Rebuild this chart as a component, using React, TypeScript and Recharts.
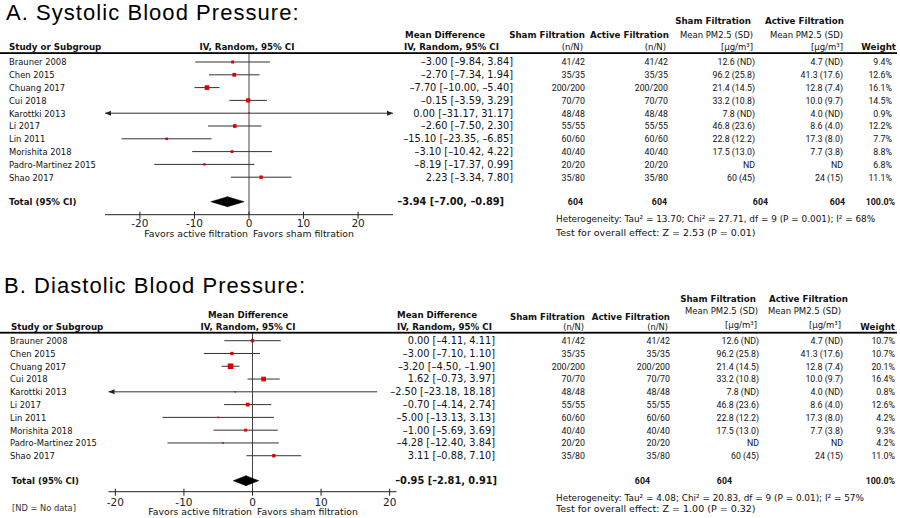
import React from "react";
import { ScatterChart, Scatter, XAxis, YAxis, ReferenceLine } from "recharts";

// ---------------- data ----------------
const studies = [
  "Brauner 2008",
  "Chen 2015",
  "Chuang 2017",
  "Cui 2018",
  "Karottki 2013",
  "Li 2017",
  "Lin 2011",
  "Morishita 2018",
  "Padro-Martinez 2015",
  "Shao 2017",
];

const sbpMD = [-3.0, -2.7, -7.7, -0.15, 0.0, -2.6, -15.1, -3.1, -8.19, 2.23];
const sbpLo = [-9.84, -7.34, -10.0, -3.59, -31.17, -7.5, -23.35, -10.42, -17.37, -3.34];
const sbpHi = [3.84, 1.94, -5.4, 3.29, 31.17, 2.3, -6.85, 4.22, 0.99, 7.8];
const sbpWeight = [9.4, 12.6, 16.1, 14.5, 0.9, 12.2, 7.7, 8.8, 6.8, 11.1];
const sbpTotal = [-3.94, -7.0, -0.89]; // md, lo, hi

const dbpMD = [0.0, -3.0, -3.2, 1.62, -2.5, -0.7, -5.0, -1.0, -4.28, 3.11];
const dbpLo = [-4.11, -7.1, -4.5, -0.73, -23.18, -4.14, -13.13, -5.69, -12.4, -0.88];
const dbpHi = [4.11, 1.1, -1.9, 3.97, 18.18, 2.74, 3.13, 3.69, 3.84, 7.1];
const dbpWeight = [10.7, 10.7, 20.1, 16.4, 0.8, 12.6, 4.2, 9.3, 4.2, 11.0];
const dbpTotal = [-0.95, -2.81, 0.91];

const nCounts = ["41/42", "35/35", "200/200", "70/70", "48/48", "55/55", "60/60", "40/40", "20/20", "35/80"];
const shamPM = ["12.6 (ND)", "96.2 (25.8)", "21.4 (14.5)", "33.2 (10.8)", "7.8 (ND)", "46.8 (23.6)", "22.8 (12.2)", "17.5 (13.0)", "ND", "60 (45)"];
const activePM = ["4.7 (ND)", "41.3 (17.6)", "12.8 (7.4)", "10.0 (9.7)", "4.0 (ND)", "8.6 (4.0)", "17.3 (8.0)", "7.7 (3.8)", "ND", "24 (15)"];

const sbpTotals = ["604", "604", "604", "604", "100.0%"];
const dbpTotals = ["604", "604", "100.0%"];

const tickValues = [-20, -10, 0, 10, 20];

const sbpHeterogeneity = "Heterogeneity: Tau\u00B2 = 13.70; Chi\u00B2 = 27.71, df = 9 (P = 0.001); I\u00B2 = 68%";
const sbpOverall = "Test for overall effect: Z = 2.53 (P = 0.01)";
const dbpHeterogeneity = "Heterogeneity: Tau\u00B2 = 4.08; Chi\u00B2 = 20.83, df = 9 (P = 0.01); I\u00B2 = 57%";
const dbpOverall = "Test for overall effect: Z = 1.00 (P = 0.32)";

// ---------------- layout ----------------
const SANS = "'DejaVu Sans', Verdana, sans-serif";
const NUM = "Roboto, 'Liberation Sans', sans-serif";
const TITLE = "'Liberation Sans', Arial, sans-serif";
const CHART_W = 420;

type Layout = {
  chartTop: number;
  chartHeight: number;
  plotTop: number;
  axisY: number;
  plotLeft: number;
  plotRight: number;
  xDomain: [number, number];
  row0: number;
  rowStep: number;
  totalY: number;
  tickDy: number;
};

const topL: Layout = {
  chartTop: 0,
  chartHeight: 250,
  plotTop: 53,
  axisY: 214.7,
  plotLeft: 105,
  plotRight: 393,
  xDomain: [-26.4, 26.4],
  row0: 62,
  rowStep: 12.8,
  totalY: 201.7,
  tickDy: 12.3,
};

const botL: Layout = {
  chartTop: 300,
  chartHeight: 218,
  plotTop: 332.7,
  axisY: 491.7,
  plotLeft: 108.5,
  plotRight: 396.5,
  xDomain: [-21, 21],
  row0: 340.7,
  rowStep: 12.78,
  totalY: 480.7,
  tickDy: 13.8,
};

const fmt = (v: number) => {
  const s = Math.abs(v).toFixed(2);
  return v < 0 ? "\u2013" + s : s;
};

function makeCI(arrowL: boolean, arrowR: boolean) {
  return (p: any) => {
    const { x1, y1, x2, y2 } = p;
    return (
      <g>
        <line x1={x1} y1={y1} x2={x2} y2={y2} stroke="#333" strokeWidth={1} />
        {arrowL && (
          <polygon points={`${x1},${y1} ${x1 + 6},${y1 - 2.5} ${x1 + 6},${y1 + 2.5}`} fill="#222" />
        )}
        {arrowR && (
          <polygon points={`${x2},${y2} ${x2 - 6},${y2 - 2.5} ${x2 - 6},${y2 + 2.5}`} fill="#222" />
        )}
      </g>
    );
  };
}

const DH = 5;
const diamondLeft = (p: any) => (
  <polygon
    points={`${p.x1},${p.y1} ${p.x2},${p.y2 - DH} ${p.x2},${p.y2 + DH}`}
    fill="#000"
    stroke="#000"
    strokeWidth={0.5}
  />
);
const diamondRight = (p: any) => (
  <polygon
    points={`${p.x1},${p.y1 - DH} ${p.x2},${p.y2} ${p.x1},${p.y1 + DH}`}
    fill="#000"
    stroke="#000"
    strokeWidth={0.5}
  />
);

const Square = (p: any) => {
  const w = p.payload?.w ?? p.w ?? 5;
  const s = Math.max(1.6, 0.6 + 0.25 * w);
  return <rect x={p.cx - s / 2} y={p.cy - s / 2} width={s} height={s} fill="#e00000" />;
};

function makeTick(dy: number) {
  return (p: any) => {
    const { x, y, payload } = p;
    const v = payload.value as number;
    return (
      <g>
        <line x1={x} x2={x} y1={y - 3} y2={y + 4} stroke="#222" strokeWidth={1} />
        <text x={x} y={y + dy} textAnchor="middle" fontFamily={SANS} fontSize={10.5} fill="#222">
          {v < 0 ? "-" + Math.abs(v) : String(v)}
        </text>
      </g>
    );
  };
}

function Forest({
  L,
  md,
  lo,
  hi,
  w,
  total,
}: {
  L: Layout;
  md: number[];
  lo: number[];
  hi: number[];
  w: number[];
  total: number[];
}) {
  const [xmin, xmax] = L.xDomain;
  const yMin = (L.plotTop - L.row0) / L.rowStep;
  const yMax = (L.axisY - L.row0) / L.rowStep;
  const tIdx = (L.totalY - L.row0) / L.rowStep;
  const pts = md.map((v, i) => ({ x: v, y: i, w: w[i] }));
  return (
    <div style={{ position: "absolute", left: 0, top: L.chartTop, width: CHART_W, height: L.chartHeight }}>
      <ScatterChart
        width={CHART_W}
        height={L.chartHeight}
        margin={{ top: L.plotTop - L.chartTop, left: L.plotLeft, right: CHART_W - L.plotRight, bottom: 0 }}
      >
        <XAxis
          type="number"
          dataKey="x"
          domain={L.xDomain}
          ticks={tickValues}
          interval={0}
          allowDataOverflow
          axisLine={{ stroke: "#222", strokeWidth: 1 }}
          tickLine={false}
          tickSize={0}
          tickMargin={0}
          height={L.chartTop + L.chartHeight - L.axisY}
          tick={makeTick(L.tickDy)}
        />
        <YAxis type="number" dataKey="y" domain={[yMin, yMax]} reversed hide width={0} allowDataOverflow />
        <ReferenceLine x={0} stroke="#444" strokeWidth={1} />
        {lo.map((l, i) => {
          const a = Math.max(l, xmin);
          const b = Math.min(hi[i], xmax);
          return (
            <ReferenceLine
              key={"ci" + i}
              segment={[
                { x: a, y: i },
                { x: b, y: i },
              ]}
              shape={makeCI(l < xmin, hi[i] > xmax)}
            />
          );
        })}
        <ReferenceLine
          segment={[
            { x: total[1], y: tIdx },
            { x: total[0], y: tIdx },
          ]}
          shape={diamondLeft}
        />
        <ReferenceLine
          segment={[
            { x: total[0], y: tIdx },
            { x: total[2], y: tIdx },
          ]}
          shape={diamondRight}
        />
        <Scatter data={pts} shape={Square} isAnimationActive={false} />
      </ScatterChart>
    </div>
  );
}

const T = ({
  x,
  y,
  children,
  anchor = "start",
  size = 9,
  bold = false,
  family = SANS,
  fill = "#111",
  spacing = 0,
}: {
  x: number;
  y: number;
  children: any;
  anchor?: "start" | "middle" | "end";
  size?: number;
  bold?: boolean;
  family?: string;
  fill?: string;
  spacing?: number;
}) => (
  <text
    x={x}
    y={y}
    textAnchor={anchor}
    fontSize={size}
    fontWeight={bold ? "bold" : "normal"}
    fontFamily={family}
    fill={fill}
    letterSpacing={spacing}
  >
    {children}
  </text>
);

const rowY = (L: Layout, i: number) => L.row0 + L.rowStep * i + 3.4;

function RowTexts({
  L,
  md,
  lo,
  hi,
  w,
  mdRight,
  cols,
  labelX,
}: {
  L: Layout;
  md: number[];
  lo: number[];
  hi: number[];
  w: number[];
  mdRight: number;
  cols: number[];
  labelX: number;
}) {
  return (
    <g>
      {studies.map((s, i) => {
        const y = rowY(L, i);
        return (
          <g key={s}>
            <T x={labelX} y={y} size={8.4}>
              {s}
            </T>
            <T x={mdRight} y={y} size={9.8} anchor="end">
              {`${fmt(md[i])} [${fmt(lo[i])}, ${fmt(hi[i])}]`}
            </T>
            <T x={cols[0]} y={y} size={8.8} anchor="end" family={NUM}>
              {nCounts[i]}
            </T>
            <T x={cols[1]} y={y} size={8.8} anchor="end" family={NUM}>
              {nCounts[i]}
            </T>
            <T x={cols[2]} y={y} size={8.8} anchor="end" family={NUM}>
              {shamPM[i]}
            </T>
            <T x={cols[3]} y={y} size={8.8} anchor="end" family={NUM}>
              {activePM[i]}
            </T>
            <T x={cols[4]} y={y} size={8.8} anchor="end" family={NUM}>
              {w[i].toFixed(1) + "%"}
            </T>
          </g>
        );
      })}
    </g>
  );
}

function Overlay() {
  const tTop = topL.totalY + 3.4;
  const tBot = botL.totalY + 3.4;
  return (
    <svg width={900} height={518} style={{ position: "absolute", left: 0, top: 0, pointerEvents: "none" }}>
      {/* ---------- Panel A ---------- */}
      <T x={6} y={19.5} size={22} family={TITLE} fill="#000" spacing={1.05}>
        A. Systolic Blood Pressure:
      </T>
      <T x={9} y={50} size={8.7} bold>
        Study or Subgroup
      </T>
      <T x={247} y={50} size={8.7} bold anchor="middle">
        IV, Random, 95% CI
      </T>
      <T x={405} y={38} size={8.7} bold>
        Mean Difference
      </T>
      <T x={404} y={50} size={8.7} bold>
        IV, Random, 95% CI
      </T>
      <T x={585} y={38} size={8.7} bold anchor="end">
        Sham Filtration
      </T>
      <T x={583} y={50} size={8.5} anchor="end">
        (n/N)
      </T>
      <T x={669} y={38} size={8.7} bold anchor="end">
        Active Filtration
      </T>
      <T x={666} y={50} size={8.5} anchor="end">
        (n/N)
      </T>
      <T x={751} y={24} size={8.7} bold anchor="end">
        Sham Filtration
      </T>
      <T x={753} y={38} size={8.5} anchor="end">
        Mean PM2.5 (SD)
      </T>
      <T x={753} y={50} size={8.5} anchor="end">
        [μg/m³]
      </T>
      <T x={844} y={24} size={8.7} bold anchor="end">
        Active Filtration
      </T>
      <T x={843} y={38} size={8.5} anchor="end">
        Mean PM2.5 (SD)
      </T>
      <T x={843} y={50} size={8.5} anchor="end">
        [μg/m³]
      </T>
      <T x={896} y={50} size={8.7} bold anchor="end">
        Weight
      </T>
      <rect x={0} y={52.2} width={897} height={1.8} fill="#000" />

      <RowTexts
        L={topL}
        md={sbpMD}
        lo={sbpLo}
        hi={sbpHi}
        w={sbpWeight}
        mdRight={513}
        cols={[585, 668, 755, 843, 892]}
        labelX={9}
      />
      <T x={9} y={tTop} size={8.6} bold>
        Total (95% CI)
      </T>
      <T x={504} y={tTop} size={9.8} bold anchor="end">
        {`${fmt(sbpTotal[0])} [${fmt(sbpTotal[1])}, ${fmt(sbpTotal[2])}]`}
      </T>
      {[583, 667, 768, 845, 895].map((x, i) => (
        <T key={"st" + i} x={x} y={tTop} size={8.8} bold anchor="end" family={NUM}>
          {sbpTotals[i]}
        </T>
      ))}
      <T x={248} y={237.3} size={9.3} anchor="end">
        Favors active filtration
      </T>
      <T x={253} y={237.3} size={9.3}>
        Favors sham filtration
      </T>
      <T x={556} y={222.3} size={8.9}>
        {sbpHeterogeneity}
      </T>
      <T x={556} y={235.5} size={9.5}>
        {sbpOverall}
      </T>

      {/* ---------- Panel B ---------- */}
      <T x={4} y={292.5} size={22} family={TITLE} fill="#000" spacing={1.05}>
        B. Diastolic Blood Pressure:
      </T>
      <T x={248} y={317.5} size={8.7} bold anchor="middle">
        Mean Difference
      </T>
      <T x={248} y={329.5} size={8.7} bold anchor="middle">
        IV, Random, 95% CI
      </T>
      <T x={11} y={329.5} size={8.7} bold>
        Study or Subgroup
      </T>
      <T x={397} y={317.5} size={8.7} bold>
        Mean Difference
      </T>
      <T x={397} y={329.5} size={8.7} bold>
        IV, Random, 95% CI
      </T>
      <T x={585} y={320.3} size={8.6} bold anchor="end">
        Sham Filtration
      </T>
      <T x={584} y={330} size={8.3} anchor="end">
        (n/N)
      </T>
      <T x={670} y={320.3} size={8.6} bold anchor="end">
        Active Filtration
      </T>
      <T x={668} y={330} size={8.3} anchor="end">
        (n/N)
      </T>
      <T x={756} y={302} size={8.7} bold anchor="end">
        Sham Filtration
      </T>
      <T x={758} y={313.5} size={8.5} anchor="end">
        Mean PM2.5 (SD)
      </T>
      <T x={757} y={327.5} size={8.5} anchor="end">
        [μg/m³]
      </T>
      <T x={848} y={302} size={8.7} bold anchor="end">
        Active Filtration
      </T>
      <T x={841} y={313.5} size={8.5} anchor="end">
        Mean PM2.5 (SD)
      </T>
      <T x={841} y={327.5} size={8.5} anchor="end">
        [μg/m³]
      </T>
      <T x={895} y={329.5} size={8.7} bold anchor="end">
        Weight
      </T>
      <rect x={0} y={331.8} width={897} height={1.8} fill="#000" />

      <RowTexts
        L={botL}
        md={dbpMD}
        lo={dbpLo}
        hi={dbpHi}
        w={dbpWeight}
        mdRight={495}
        cols={[585, 670, 759, 843, 895]}
        labelX={10}
      />
      <T x={11.5} y={tBot} size={8.6} bold>
        Total (95% CI)
      </T>
      <T x={497} y={tBot} size={9.8} bold anchor="end">
        {`${fmt(dbpTotal[0])} [${fmt(dbpTotal[1])}, ${fmt(dbpTotal[2])}]`}
      </T>
      {[650, 732, 895].map((x, i) => (
        <T key={"dt" + i} x={x} y={tBot} size={8.8} bold anchor="end" family={NUM}>
          {dbpTotals[i]}
        </T>
      ))}
      <T x={252} y={515} size={9.3} anchor="end">
        Favors active filtration
      </T>
      <T x={257} y={515} size={9.3}>
        Favors sham filtration
      </T>
      <T x={556} y={501} size={8.9}>
        {dbpHeterogeneity}
      </T>
      <T x={556} y={511.8} size={9.5}>
        {dbpOverall}
      </T>
      <T x={12} y={511} size={8.3} fill="#333">
        [ND = No data]
      </T>
    </svg>
  );
}

export default function App() {
  return (
    <div
      style={{
        position: "absolute",
        left: 0,
        top: 0,
        width: 900,
        height: 518,
        overflow: "hidden",
        background: "#fff",
      }}
    >
      <Forest L={topL} md={sbpMD} lo={sbpLo} hi={sbpHi} w={sbpWeight} total={sbpTotal} />
      <Forest L={botL} md={dbpMD} lo={dbpLo} hi={dbpHi} w={dbpWeight} total={dbpTotal} />
      <Overlay />
    </div>
  );
}
